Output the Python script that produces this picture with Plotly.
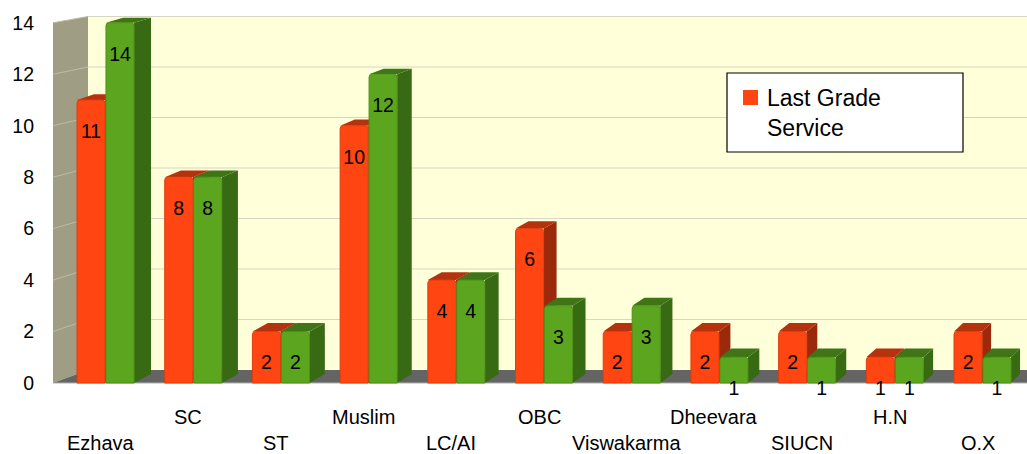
import plotly.graph_objects as go

# ---------------- data ----------------
categories = ["Ezhava", "SC", "ST", "Muslim", "LC/AI", "OBC", "Viswakarma",
              "Dheevara", "SIUCN", "H.N", "O.X"]
last_grade = [11, 8, 2, 10, 4, 6, 2, 2, 2, 1, 2]
second_series = [14, 8, 2, 12, 4, 3, 3, 1, 1, 1, 1]
y_ticks = [0, 2, 4, 6, 8, 10, 12, 14]
legend_label = "Last Grade<br>Service"

# ---------------- layout geometry ----------------
W, H = 1027, 454
ML, MR, MT, MB = 53, 0, 15, 60
ZERO_PX = 383          # pixel row of value 0 on the front plane
PX_Y = 25.73
X0, X1 = -0.599, 10.507
Y1 = (ZERO_PX - MT) / PX_Y
Y0 = -(H - MB - ZERO_PX) / PX_Y
PW, PH = W - ML - MR, H - MT - MB
PX_X = PW / (X1 - X0)

BAR_W = 0.32
OFF_O = -0.325
OFF_G = 0.005

ORANGE, ORANGE_SIDE, ORANGE_TOP, ORANGE_EDGE = "#FF4511", "#9A2A0B", "#B5320E", "#E23C0C"
GREEN, GREEN_SIDE, GREEN_TOP, GREEN_EDGE = "#5CA61F", "#386A14", "#3F7517", "#4E9018"
WALL_BACK, WALL_SIDE, FLOOR = "#FFFFD9", "#9F9D84", "#646464"
GRID, SIDE_GRID = "#D6D6C6", "#BDBCA6"
FONT = "Liberation Sans, Arial, sans-serif"

x_idx = list(range(len(categories)))
vmax = max(y_ticks)

# back plane (wall) mapping, in front-axis units
xb = X0 + 35 / PX_X
back0 = 13 / PX_Y
backtop = (ZERO_PX - 16.5) / PX_Y


def back(v):
    return back0 + v * (backtop - back0) / vmax


def path(pts):
    return "M " + " L ".join(f"{x:.4f},{y:.4f}" for x, y in pts) + " Z"


shapes = []
# back wall
shapes.append(dict(type="rect", xref="x", yref="y", x0=xb, x1=X1 + 1, y0=back(0), y1=back(vmax),
                   fillcolor=WALL_BACK, line=dict(width=0), layer="below"))
for t in y_ticks[1:]:
    shapes.append(dict(type="line", xref="x", yref="y", x0=xb, x1=X1 + 1, y0=back(t), y1=back(t),
                       line=dict(color=GRID, width=1.2), layer="below"))
# side wall
shapes.append(dict(type="path", xref="x", yref="y",
                   path=path([(X0, 0), (X0, vmax), (xb, back(vmax)), (xb, back(0))]),
                   fillcolor=WALL_SIDE, line=dict(width=0), layer="below"))
for t in y_ticks[1:]:
    shapes.append(dict(type="line", xref="x", yref="y", x0=X0, x1=xb, y0=t, y1=back(t),
                       line=dict(color=SIDE_GRID, width=1), layer="below"))
# floor
shapes.append(dict(type="path", xref="x", yref="y",
                   path=path([(X0, 0), (X1 + 1, 0), (X1 + 1, back(0)), (xb, back(0))]),
                   fillcolor=FLOOR, line=dict(width=0), layer="below"))
shapes.append(dict(type="line", xref="x", yref="y", x0=X0, x1=X1 + 1, y0=0, y1=0,
                   line=dict(color="#B0B0B0", width=1), layer="below"))


def bar_faces(i, v, off, side_col, top_col):
    xl = i + off
    xr = xl + BAR_W
    dx = (17 - 0.8 * i) / PX_X
    dyt = (9 - 0.29 * v) / PX_Y
    dyb = 9 / PX_Y
    side = path([(xr, 0), (xr, v), (xr + dx, v + dyt), (xr + dx, dyb)])
    top = path([(xl, v), (xr, v), (xr + dx, v + dyt), (xl + dx, v + dyt)])
    return [dict(type="path", xref="x", yref="y", path=side, fillcolor=side_col,
                 line=dict(width=0), layer="below"),
            dict(type="path", xref="x", yref="y", path=top, fillcolor=top_col,
                 line=dict(width=0), layer="below")]


for i in x_idx:
    shapes += bar_faces(i, last_grade[i], OFF_O, ORANGE_SIDE, ORANGE_TOP)
    shapes += bar_faces(i, second_series[i], OFF_G, GREEN_SIDE, GREEN_TOP)


def pxx(p):
    return (p - ML) / PW


def pxy(p):
    return (H - MB - p) / PH


# manual legend box
shapes.append(dict(type="rect", xref="paper", yref="paper", x0=pxx(727), x1=pxx(963),
                   y0=pxy(152), y1=pxy(73), fillcolor="white",
                   line=dict(color="black", width=1.2), layer="above"))
shapes.append(dict(type="rect", xref="paper", yref="paper", x0=pxx(743), x1=pxx(758),
                   y0=pxy(105), y1=pxy(90), fillcolor=ORANGE,
                   line=dict(width=0), layer="above"))

fig = go.Figure()
fig.add_trace(go.Bar(x=x_idx, y=last_grade, width=BAR_W, offset=OFF_O, name="Last Grade Service",
                     marker=dict(color=ORANGE, line=dict(color=ORANGE_EDGE, width=1), cornerradius=3),
                     showlegend=False, hoverinfo="y"))
fig.add_trace(go.Bar(x=x_idx, y=second_series, width=BAR_W, offset=OFF_G, name="Series 2",
                     marker=dict(color=GREEN, line=dict(color=GREEN_EDGE, width=1), cornerradius=3),
                     showlegend=False, hoverinfo="y"))

# value labels
for vals, off in ((last_grade, OFF_O), (second_series, OFF_G)):
    fig.add_trace(go.Scatter(x=[i + off + BAR_W / 2 for i in x_idx], y=[v - 1.28 for v in vals],
                             mode="text", text=[str(v) for v in vals],
                             textfont=dict(family=FONT, size=19.5, color="black"),
                             cliponaxis=False, showlegend=False, hoverinfo="skip"))

annotations = []
for i, c in zip(x_idx, categories):
    annotations.append(dict(x=i, y=0, xref="x", yref="y", text=c, showarrow=False,
                            xshift=-5, yshift=-34 if i % 2 else -60, yanchor="middle",
                            font=dict(family=FONT, size=20, color="black")))
annotations.append(dict(x=pxx(765), y=pxy(113), xref="paper", yref="paper", text=legend_label,
                        showarrow=False, xanchor="left", yanchor="middle", align="left",
                        font=dict(family=FONT, size=23, color="black")))

fig.update_layout(
    width=W, height=H,
    margin=dict(l=ML, r=MR, t=MT, b=MB, pad=0),
    paper_bgcolor="white", plot_bgcolor="white",
    barmode="overlay",
    showlegend=False,
    shapes=shapes, annotations=annotations,
    xaxis=dict(range=[X0, X1], showgrid=False, zeroline=False, showline=False,
               showticklabels=False, fixedrange=True),
    yaxis=dict(range=[Y0, Y1], tickvals=y_ticks, showgrid=False, zeroline=False, showline=False,
               ticklabelstandoff=18, tickfont=dict(family=FONT, size=19.5, color="black"),
               fixedrange=True),
    font=dict(family=FONT),
)

fig.write_html("out.html", config={"displayModeBar": False},
               post_script="document.body.style.margin='0';document.body.style.overflow='hidden';")
